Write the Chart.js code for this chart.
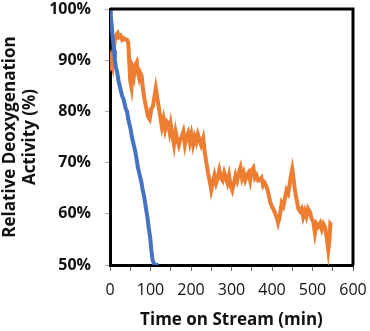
<!DOCTYPE html>
<html>
<head>
<meta charset="utf-8">
<script src="https://cdn.jsdelivr.net/npm/chart.js@4"></script>
<style>
  html, body { margin: 0; padding: 0; background: #fff; }
  #wrap { width: 370px; height: 331px; }
</style>
</head>
<body>
<div id="wrap"><canvas id="chart"></canvas></div>
<script>
// Blue run (fast deactivation)
var blueTime = [0, 2, 4, 6, 8, 10, 12, 15, 18, 21, 24, 27, 30, 33, 36, 39, 42, 45, 48, 51,
                54, 57, 60, 63, 66, 69, 72, 75, 78, 81, 84, 87, 90, 93, 96, 99, 102, 105, 110, 115, 120];
var blueVals = [100, 98.5, 97, 95, 93.5, 92, 90, 88.5, 87.5, 86, 85, 84, 83, 82.5, 81.5, 80.5, 80, 78.5, 77.5, 76.5,
                75, 74, 73, 72, 70.5, 69, 68, 67, 66, 64.5, 63.5, 62, 60.5, 59, 57, 55.5, 53, 51, 50, 50, 50];

// Orange run (slow deactivation)
var orangeTime = [0, 3, 6, 9, 12, 16, 19, 22, 26, 30, 34, 38, 42, 45, 48, 50, 53, 56, 59, 62,
                  66, 69, 72, 75, 78, 82, 86, 90, 94, 98, 102, 106, 110, 113, 116, 120, 124, 128, 132, 136,
                  140, 143, 147, 150, 154, 158, 162, 166, 170, 173, 177, 181, 185, 189, 193, 197, 201, 205, 209, 213,
                  217, 221, 225, 230, 234, 238, 242, 246, 250, 254, 258, 262, 266, 270, 274, 278, 282, 286, 290, 294,
                  298, 302, 306, 310, 314, 318, 322, 326, 330, 334, 338, 342, 346, 350, 354, 358, 362, 366, 370, 374,
                  378, 382, 387, 391, 395, 399, 403, 407, 411, 415, 418, 421, 424, 428, 432, 436, 440, 444, 447, 450,
                  453, 456, 459, 461, 465, 469, 473, 477, 481, 485, 489, 494, 498, 502, 506, 510, 514, 519, 523, 527,
                  531, 535, 539, 542, 544, 546];
var orangeVals = [88, 90, 89, 92, 94, 95, 95.3, 94.5, 94.8, 94, 94.3, 94, 94, 93.5, 89, 86, 84.7, 88, 87, 89,
                  89.6, 87.5, 86.5, 87.5, 87, 84, 82, 80.5, 79, 78.5, 80.5, 81, 83, 84.5, 83, 81, 79, 77, 78.5, 76.5,
                  78, 77.7, 76, 77.5, 75.5, 73.5, 76, 74.5, 73.4, 74.4, 75, 76, 73.5, 75, 75.8, 74, 75.5, 73.5, 75, 74,
                  75.5, 74.5, 73.5, 74.8, 72, 70, 68, 66.5, 64.6, 66, 67.5, 66, 67, 68.5, 67, 66.5, 68, 67, 66, 67.5,
                  65.5, 64.6, 66, 67.5, 66.5, 68, 69, 67, 68, 66.6, 67.5, 68, 66.5, 68.5, 69, 67, 67.5, 66.5, 66.6, 67,
                  65.5, 66, 65.2, 64, 62.5, 61.5, 61, 60.2, 59.5, 58.2, 59, 60.5, 62.1, 61.5, 63, 64.6, 64, 66, 67.5, 68.7,
                  67, 65, 63.5, 62.7, 61, 60.5, 61, 59.4, 60.5, 59.5, 61, 60.3, 59, 58.5, 56.2, 58, 57.5, 58.2, 57, 58,
                  57.4, 55.5, 52.9, 55, 58, 57.8];

var xTicks = [0, 100, 200, 300, 400, 500, 600];
var yTicks = [50, 60, 70, 80, 90, 100];

function toPoints(xs, ys) {
    return xs.map(function (x, i) { return { x: x, y: ys[i] }; });
}

// thick frame around the plot area (top and right edges)
var frame = {
    id: 'frame',
    afterDraw: function (chart) {
        var a = chart.chartArea, ctx = chart.ctx;
        ctx.save();
        ctx.strokeStyle = '#000';
        ctx.lineWidth = 3;
        ctx.beginPath();
        ctx.moveTo(a.left, a.top);
        ctx.lineTo(a.right, a.top);
        ctx.lineTo(a.right, a.bottom);
        ctx.stroke();
        ctx.restore();
    }
};

var ctx = document.getElementById('chart');
new Chart(ctx, {
    type: 'scatter',
    data: {
        datasets: [
            { label: 'Blue', data: toPoints(blueTime, blueVals), showLine: true,
              borderColor: '#4472C4', borderWidth: 4, pointRadius: 0 },
            { label: 'Orange', data: toPoints(orangeTime, orangeVals), showLine: true,
              borderColor: '#ED7D31', borderWidth: 4, pointRadius: 0 }
        ]
    },
    options: {
        responsive: true,
        maintainAspectRatio: false,
        animation: false,
        layout: { padding: { top: 9, right: 17, left: 0, bottom: 0 } },
        plugins: { legend: { display: false }, tooltip: { enabled: false } },
        scales: {
            x: {
                type: 'linear', min: 0, max: 600,
                afterFit: function (s) { s.height = 66; s.paddingLeft = 0; s.paddingRight = 0; },
                border: { color: '#000', width: 3 },
                grid: { drawOnChartArea: false, drawTicks: true, tickLength: 6, color: '#666' },
                ticks: {
                    stepSize: 50, padding: 10, color: '#111', maxRotation: 0, autoSkip: false,
                    font: { family: 'Open Sans', size: 16 },
                    callback: function (v) { return xTicks.indexOf(v) >= 0 ? String(v) : ''; }
                },
                title: {
                    display: true, text: 'Time on Stream (min)', color: '#111',
                    font: { family: 'Open Sans', size: 17, weight: 'bold', lineHeight: 1.2 },
                    padding: { top: 0, bottom: 1 }
                }
            },
            y: {
                min: 50, max: 100,
                afterFit: function (s) { s.width = 110; s.paddingTop = 0; s.paddingBottom = 0; },
                border: { color: '#000', width: 3 },
                grid: { drawOnChartArea: false, drawTicks: true, tickLength: 5, color: '#aaa' },
                ticks: {
                    stepSize: 10, padding: 14, color: '#111',
                    font: { family: 'Open Sans', size: 16, weight: 'bold' },
                    callback: function (v) { return yTicks.indexOf(v) >= 0 ? v + '%' : ''; }
                },
                title: {
                    display: true, text: ['Relative Deoxygenation', 'Activity (%)'], color: '#111',
                    font: { family: 'Open Sans', size: 17, weight: 'bold', lineHeight: 1.2 },
                    padding: { top: 0, bottom: 0 }
                }
            }
        }
    },
    plugins: [frame]
});
</script>
</body>
</html>
